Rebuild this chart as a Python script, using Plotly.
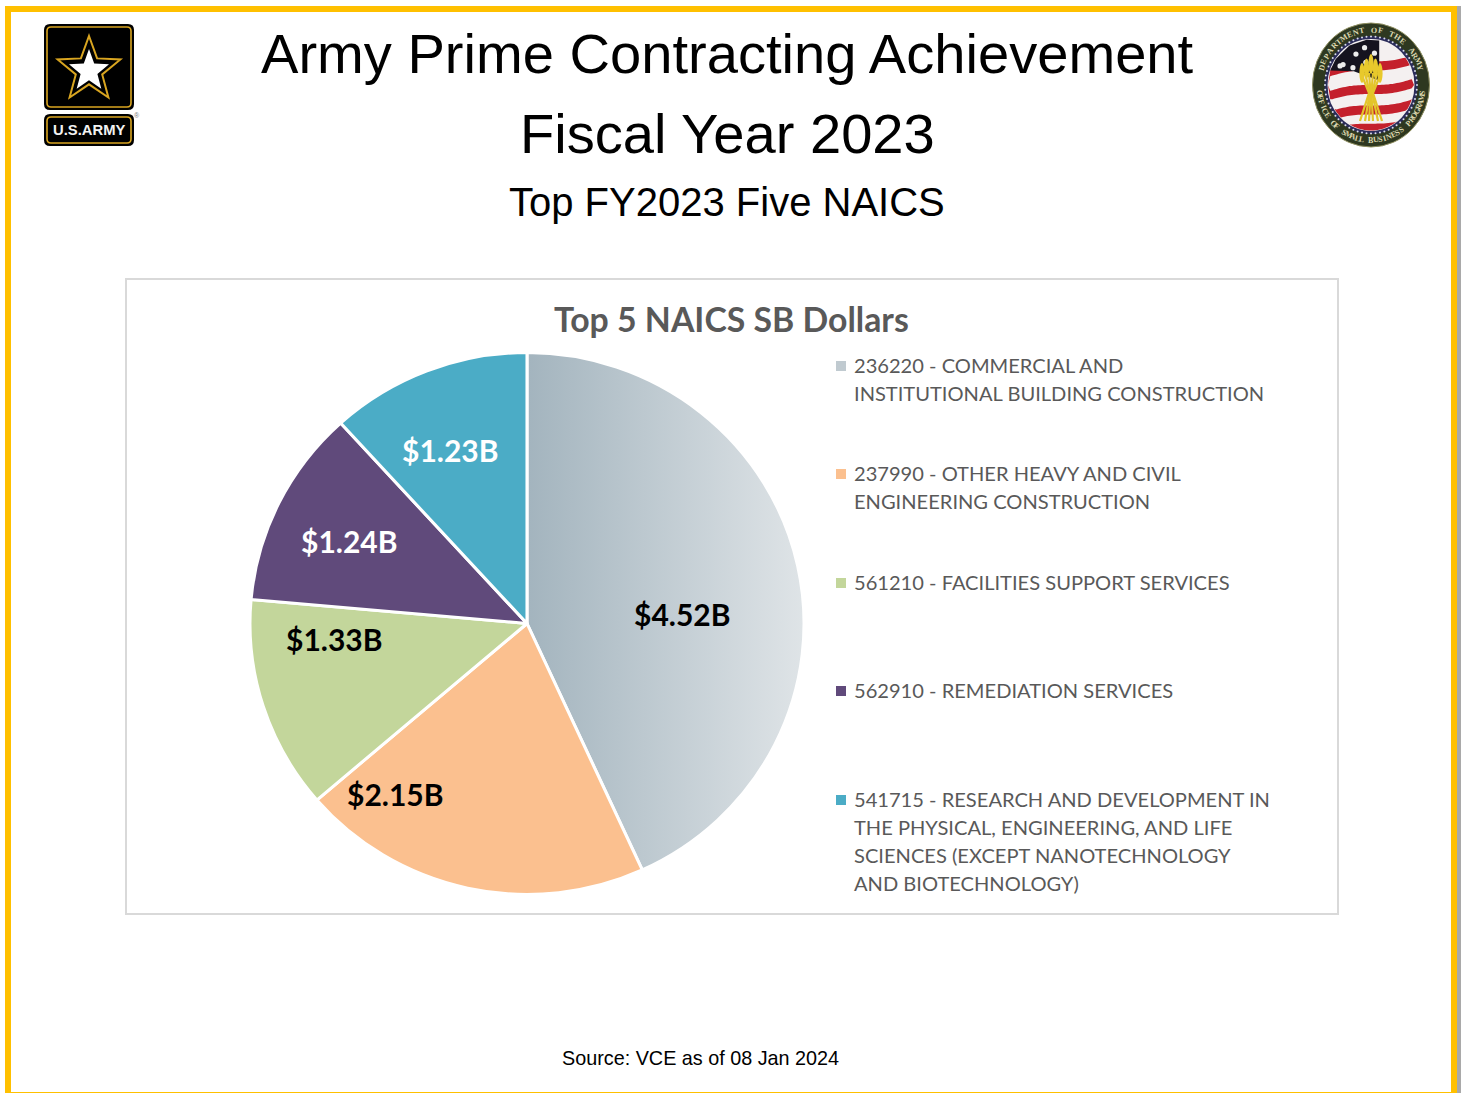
import math
import numpy as np
import plotly.graph_objects as go

# Small-business dollars by NAICS code, in billions
naics_labels = [
    "236220 - COMMERCIAL AND<br>INSTITUTIONAL BUILDING CONSTRUCTION",
    "237990 - OTHER HEAVY AND CIVIL<br>ENGINEERING CONSTRUCTION",
    "561210 - FACILITIES SUPPORT SERVICES",
    "562910 - REMEDIATION SERVICES",
    "541715 - RESEARCH AND DEVELOPMENT IN<br>THE PHYSICAL, ENGINEERING, AND LIFE<br>"
    "SCIENCES (EXCEPT NANOTECHNOLOGY<br>AND BIOTECHNOLOGY)",
]
sb_dollars = [4.52, 2.15, 1.33, 1.24, 1.23]
slice_colors = ["#C0CAD0", "#FBC08F", "#C3D69B", "#604A7B", "#4BACC6"]
value_text_colors = ["#000000", "#000000", "#000000", "#FFFFFF", "#FFFFFF"]
value_label_xy = [(682, 613.5), (395, 793.5), (334, 638.5), (349, 540.5), (450, 449.5)]
legend_rows_y = [366, 474, 583, 691, 800]

W, H = 1461, 1093
CX, CY, R = 527, 623.5, 272
GOLD = "#FFC000"
SEAL_X, SEAL_Y, SEAL_RX, SEAL_RY = 1371, 85, 58.5, 62

shapes, notes = [], []


def rect(x0, y0, x1, y1, fill, line=None, width=0, layer="below"):
    shapes.append(dict(type="rect", x0=x0, y0=y0, x1=x1, y1=y1, fillcolor=fill, layer=layer,
                       line=dict(color=line or fill, width=width)))


def path(d, fill, line=None, width=0):
    shapes.append(dict(type="path", path=d, fillcolor=fill, layer="above",
                       line=dict(color=line or "rgba(0,0,0,0)", width=width)))


def rrect(x0, y0, x1, y1, r):
    return (f"M{x0+r},{y0} L{x1-r},{y0} Q{x1},{y0} {x1},{y0+r} L{x1},{y1-r} Q{x1},{y1} {x1-r},{y1} "
            f"L{x0+r},{y1} Q{x0},{y1} {x0},{y1-r} L{x0},{y0+r} Q{x0},{y0} {x0+r},{y0} Z")


def star(cx, cy, rx, ry, inner=0.4):
    pts = []
    for i in range(10):
        k = 1 if i % 2 == 0 else inner
        a = -math.pi / 2 + i * math.pi / 5
        pts.append(f"{cx + rx*k*math.cos(a):.1f},{cy + ry*k*math.sin(a):.1f}")
    return "M" + " L".join(pts) + " Z"


def ellipse(cx, cy, rx, ry, fill, line=None, width=0):
    shapes.append(dict(type="circle", x0=cx-rx, x1=cx+rx, y0=cy-ry, y1=cy+ry, fillcolor=fill, layer="above",
                       line=dict(color=line or "rgba(0,0,0,0)", width=width)))


def note(x, y, text, size, color="#000000", family="Liberation Sans", xanchor="center", yanchor="middle",
         angle=0):
    notes.append(dict(x=x, y=y, text=text, xref="x", yref="y", showarrow=False, xanchor=xanchor, yanchor=yanchor,
                      align="left" if xanchor == "left" else "center", borderpad=0, textangle=angle,
                      font=dict(size=size, color=color, family=family)))


# Slide frame and chart panel
rect(0, 0, W, H, "#FFFFFF")
rect(1457, 6, W, H, "#A9A9A9")
rect(5, 6, 1457, H, GOLD)
rect(11, 12, 1451, 1092, "#FFFFFF")
rect(126, 279, 1338, 914, "#FFFFFF", "#D9D9D9", 2)

# Army star badge
path(rrect(44, 24, 134, 110, 6), "#000000")
path(rrect(47, 27, 131, 107, 4), "#000000", "#D9A520", 1.6)
path(star(89, 70, 33, 34, 0.42), "#000000", "#D9A520", 2)
path(star(89, 71, 21, 22, 0.42), "#FFFFFF")
path(rrect(44, 114, 134, 146, 6), "#000000")
path(rrect(47, 117, 131, 143, 4), "#000000", "#D9A520", 1.6)
note(89, 129.5, "<b>U.S.ARMY</b>", 14.8, "#F2F2F2", "Liberation Sans")
note(137, 115, "®", 7, "#777777")

# Small-business program seal
ellipse(SEAL_X, SEAL_Y, SEAL_RX, SEAL_RY, "#2E3820", "#8F8F60", 1)
ellipse(SEAL_X, SEAL_Y, 45, 47.5, "#F4F0F0", "#2B2C5A", 3)


def seal_x(u):
    return SEAL_X + 43 * u


def seal_y(v):
    return SEAL_Y + 45.5 * v


def stripe(v_top, thick):
    # Waving flag stripe, trimmed to the inner disc of the seal
    us = np.linspace(-1, 1, 41)
    wave = -0.15 * us + 0.05 * np.sin(us * 3)
    lim = np.sqrt(np.maximum(1 - us ** 2, 0))
    top = np.clip(v_top + wave, -lim, lim)
    bot = np.clip(v_top + thick + wave, -lim, lim)
    pts = [(seal_x(a), seal_y(b)) for a, b in zip(us, top)] + [(seal_x(a), seal_y(b)) for a, b in zip(us[::-1], bot[::-1])]
    return "M" + " L".join(f"{a:.1f},{b:.1f}" for a, b in pts) + " Z"


for vt in (-0.52, 0.0, 0.45, 0.85):
    path(stripe(vt, 0.2), "#C4202C")
canton = [(-0.95, -0.32), (-0.82, -0.57), (-0.5, -0.87), (-0.1, -0.995), (0.19, -0.98), (0.19, -0.1), (-0.4, -0.3)]
path("M" + " L".join(f"{seal_x(a):.1f},{seal_y(b):.1f}" for a, b in canton) + " Z", "#15131F")
for u, v in [(-0.65, -0.45), (-0.35, -0.68), (-0.42, -0.38), (-0.12, -0.5), (-0.72, -0.42), (-0.15, -0.82), (0.08, -0.7)]:
    ellipse(seal_x(u), seal_y(v), 2.6, 2.6, "#EDEDED")
for top_dx, bot_dx in [(-10, -11), (-6, -6), (-2, -2), (2, 2), (6, 7), (10, 11)]:
    path(f"M{SEAL_X+top_dx},{SEAL_Y-12} L{SEAL_X+top_dx*0.2},{SEAL_Y+8} L{SEAL_X+bot_dx},{SEAL_Y+36}",
         "rgba(0,0,0,0)", "#E3C52B", 2.2)
for dx in (-9, -4.5, 0, 4.5, 9):
    ellipse(SEAL_X + dx, SEAL_Y - 21 + abs(dx), 2.6, 10, "#E8C92C")
for i in range(64):
    a = 2 * math.pi * i / 64
    ellipse(SEAL_X + 46 * math.cos(a), SEAL_Y + 48.5 * math.sin(a), 1, 1, "#D9DCEB")


def ring_text(text, a0, a1, bottom=False):
    # One rotated annotation per letter along the seal's outer band
    for i, ch in enumerate(text):
        if ch == " ":
            continue
        a = math.radians(a0 + (a1 - a0) * i / (len(text) - 1))
        x = SEAL_X + 52 * math.sin(a)
        y = SEAL_Y - 55 * math.cos(a)
        rot = math.degrees(a) + (180 if bottom else 0)
        note(x, y, f"<b>{ch}</b>", 8, "#DDD8B0", "Liberation Serif", angle=rot)


ring_text("DEPARTMENT OF THE ARMY", -72, 72)
ring_text("OFFICE OF SMALL BUSINESS PROGRAMS", 262, 98, bottom=True)

# Headings
note(727, 53.5, "Army Prime Contracting Achievement", 56.1)
note(727, 133.5, "Fiscal Year 2023", 56.1)
note(727, 201.5, "Top FY2023 Five NAICS", 40)
note(731, 319, "<b>Top 5 NAICS SB Dollars</b>", 33.8, "#595959", "Lato")
note(700, 1057.5, "Source: VCE as of 08 Jan 2024", 19.8)

# Value labels on the slices
for v, (x, y), c in zip(sb_dollars, value_label_xy, value_text_colors):
    note(x, y, f"<b>${v:.2f}B</b>", 30, c, "Lato")

# Legend rows: swatch plus one annotation per wrapped line
for name, y, c in zip(naics_labels, legend_rows_y, slice_colors):
    rect(836, y - 5, 846, y + 5, c, layer="above")
    for k, line_text in enumerate(name.split("<br>")):
        note(852.5, y - 0.7 + 28 * k, line_text, 20.1, "#595959", "Lato", xanchor="left")

pie = go.Pie(
    labels=[n.replace("<br>", " ") for n in naics_labels],
    values=sb_dollars,
    sort=False,
    direction="clockwise",
    rotation=0,
    marker=dict(colors=slice_colors, line=dict(color="#FFFFFF", width=3)),
    textinfo="none",
    hoverinfo="label+value",
    showlegend=False,
    domain=dict(x=[(CX - R) / W, (CX + R) / W], y=[1 - (CY + R) / H, 1 - (CY - R) / H]),
)

fig = go.Figure(pie)
fig.update_layout(
    width=W, height=H, autosize=False,
    margin=dict(l=0, r=0, t=0, b=0),
    paper_bgcolor="#FFFFFF", plot_bgcolor="rgba(0,0,0,0)",
    xaxis=dict(range=[0, W], visible=False, fixedrange=True, domain=[0, 1]),
    yaxis=dict(range=[H, 0], visible=False, fixedrange=True, domain=[0, 1]),
    shapes=shapes, annotations=notes,
)
fig.add_trace(go.Scatter(x=[0, W], y=[0, H], mode="markers", marker=dict(opacity=0), hoverinfo="skip", showlegend=False))

# Left-to-right fade on the largest slice, and the slide's slight horizontal stretch of the pie
post_js = """
var svg = document.querySelector('.main-svg');
var ns = 'http://www.w3.org/2000/svg';
var defs = svg.querySelector('defs') || svg.insertBefore(document.createElementNS(ns, 'defs'), svg.firstChild);
var g = document.createElementNS(ns, 'linearGradient');
g.setAttribute('id', 'sliceFade');
[['0', '#A3B4BE'], ['1', '#DFE4E7']].forEach(function (s) {
  var st = document.createElementNS(ns, 'stop');
  st.setAttribute('offset', s[0]);
  st.setAttribute('stop-color', s[1]);
  g.appendChild(st);
});
defs.appendChild(g);
var slice = document.querySelector('.slice path.surface');
if (slice) { slice.style.fill = 'url(#sliceFade)'; }
var pies = document.querySelector('.pielayer');
if (pies) { pies.setAttribute('transform', 'translate(527 623.5) scale(1.0185 0.996) translate(-527 -623.5)'); }
"""
fig.write_html("out.html", post_script=post_js, config=dict(displayModeBar=False))
